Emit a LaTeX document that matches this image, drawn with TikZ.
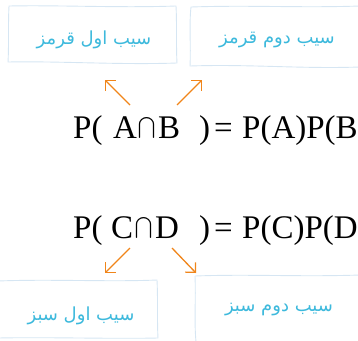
\documentclass[tikz,border=0pt]{standalone}
\usepackage{fontspec}
\usepackage{graphicx}
\setmainfont{Liberation Serif}
\newfontfamily\arabicfont[Script=Arabic]{DejaVu Sans}
\TeXXeTstate=1
\usetikzlibrary{arrows.meta}
\definecolor{boxline}{HTML}{D6E6F3}
\definecolor{lbl}{HTML}{3DB9DC}
\definecolor{arr}{HTML}{F0851A}
\tikzset{
  wbox/.style={draw=boxline, line width=0.9pt},
  lab/.style={text=lbl, font=\arabicfont\fontsize{18}{22}\selectfont, inner sep=0pt},
  eq/.style={font=\fontsize{33}{38}\selectfont, inner sep=0pt, anchor=base west},
  capsym/.style={inner sep=0pt, anchor=south west},
  pa/.style={draw=arr, line width=1.3pt, -{Straight Barb[length=7pt,width=14pt]}}
}
\begin{document}
\begin{tikzpicture}[x=1pt,y=-1pt]
\useasboundingbox (0,0) rectangle (358,340);
% boxes
\draw[wbox] (9,6) .. controls (60,5) and (120,8) .. (176,6) .. controls (177,25) and (176,45) .. (177,63)
  .. controls (120,65) and (60,61) .. (8,62) .. controls (9,45) and (8,25) .. (9,6) -- cycle;
\draw[wbox] (191,7) .. controls (250,5) and (300,8) .. (360,6) -- (360,67)
  .. controls (300,69) and (250,64) .. (190,66) .. controls (191,45) and (189,25) .. (191,7) -- cycle;
\draw[wbox] (-2,281) .. controls (50,279) and (110,282) .. (157,280) .. controls (158,300) and (157,320) .. (158,338)
  .. controls (110,339) and (50,337) .. (-2,338);
\draw[wbox] (195,276) .. controls (250,274) and (300,277) .. (360,275);
\draw[wbox] (195,276) .. controls (196,300) and (194,320) .. (196,342);
% labels
\node[lab] (l1) at (94,40) {\beginR سیب اول قرمز\endR};
\node[lab] (l2) at (277,40) {\beginR سیب دوم قرمز\endR};
\node[lab] (l3) at (81,316) {\beginR سیب اول سبز\endR};
\node[lab] (l4) at (279,310) {\beginR سیب دوم سبز\endR};
% equation 1
\node[eq] (e1a) at (73,138) {P(};
\node[eq] (e1b) at (113,138) {A};
\node[capsym] (e1x) at (138,140) {\resizebox*{17pt}{24pt}{$\displaystyle\bigcap$}};
\node[eq] (e1c) at (158,138) {B};
\node[eq] (e1d) at (199,138) {)};
\node[eq] (e1e) at (214,138) {=};
\node[eq] (e1f) at (242,138) {P(A)P(B)};
% equation 2
\node[eq] (e2a) at (73,238) {P(};
\node[eq] (e2b) at (111,238) {C};
\node[capsym] (e2x) at (135,240) {\resizebox*{17pt}{24pt}{$\displaystyle\bigcap$}};
\node[eq] (e2c) at (155,238) {D};
\node[eq] (e2d) at (199,238) {)};
\node[eq] (e2e) at (214,238) {=};
\node[eq] (e2f) at (242,238) {P(C)P(D)};
% arrows
\coordinate (a1s) at (130,105); \coordinate (a1e) at (105,80);
\coordinate (a2s) at (177,105); \coordinate (a2e) at (202,80);
\coordinate (a3s) at (130,248); \coordinate (a3e) at (105,273);
\coordinate (a4s) at (172,248); \coordinate (a4e) at (196,273);
\draw[pa] (a1s) -- (a1e);
\draw[pa] (a2s) -- (a2e);
\draw[pa] (a3s) -- (a3e);
\draw[pa] (a4s) -- (a4e);
\end{tikzpicture}
\end{document}
